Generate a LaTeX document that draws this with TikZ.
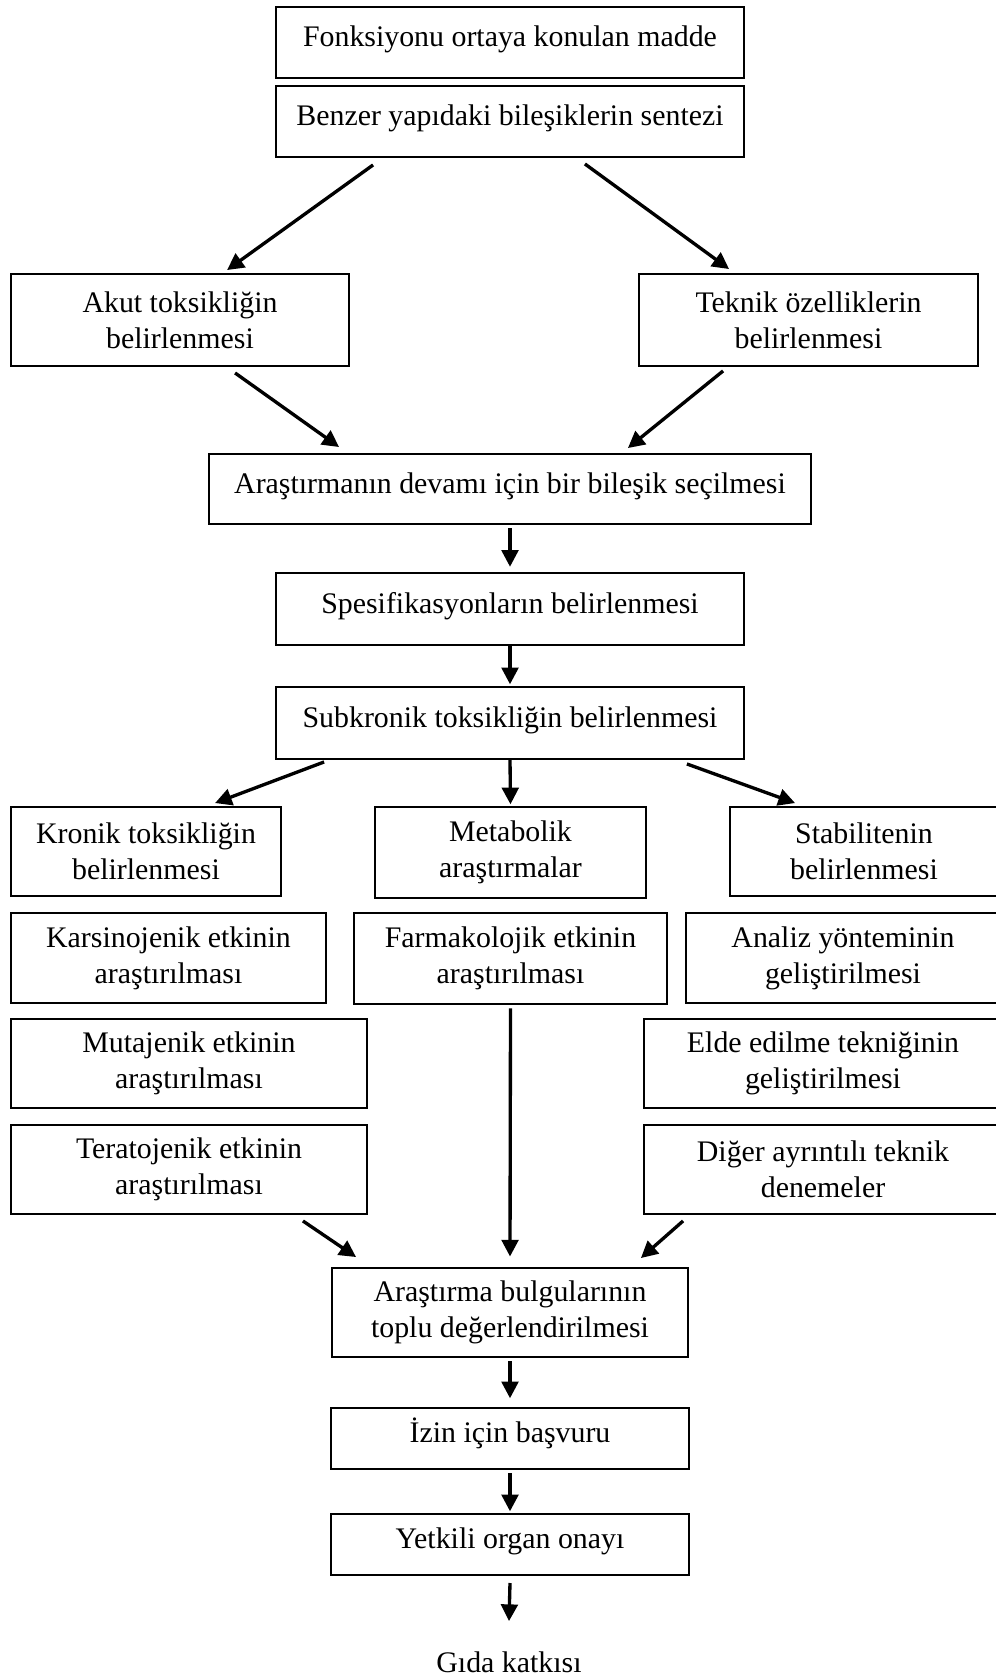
\documentclass[tikz,border=0pt]{standalone}
\usepackage{fontspec}
\setmainfont{Liberation Serif}
\usetikzlibrary{arrows.meta}

\tikzset{
  box/.style={draw, line width=1.1pt, rectangle, align=center, inner sep=2pt,
              font=\fontsize{17}{20.5}\selectfont},
  one/.style={text height=12pt, text depth=7pt},
  arr/.style={line width=1.9pt, -{Triangle[length=9.5pt,width=9.5pt]}}
}

\begin{document}
\begin{tikzpicture}[x=0.02cm, y=-0.02cm]
      \useasboundingbox (0,0) rectangle (996,1680);

      \node[box, one, minimum width=9.36cm, minimum height=1.42cm] (madde) at (510,42.5) {Fonksiyonu ortaya konulan madde};
      \node[box, one, minimum width=9.36cm, minimum height=1.42cm] (sentez) at (510,121.5) {Benzer yapıdaki bileşiklerin sentezi};

      \node[box, minimum width=6.76cm, minimum height=1.84cm] (akut) at (180,320) {Akut toksikliğin\\belirlenmesi};
      \node[box, minimum width=6.78cm, minimum height=1.84cm] (teknik) at (808.5,320) {Teknik özelliklerin\\belirlenmesi};

      \node[box, one, minimum width=12.04cm, minimum height=1.40cm] (secim) at (510,489) {Araştırmanın devamı için bir bileşik seçilmesi};
      \node[box, one, minimum width=9.36cm, minimum height=1.44cm] (spesif) at (510,609) {Spesifikasyonların belirlenmesi};
      \node[box, one, minimum width=9.36cm, minimum height=1.44cm] (subkronik) at (510,723) {Subkronik toksikliğin belirlenmesi};

      \node[box, minimum width=5.40cm, minimum height=1.78cm] (kronik) at (146,851.5) {Kronik toksikliğin\\belirlenmesi};
      \node[box, minimum width=5.42cm, minimum height=1.82cm] (metabolik) at (510.5,852.5) {Metabolik\\araştırmalar};
      \node[box, minimum width=5.36cm, minimum height=1.78cm] (stabilite) at (864,851.5) {Stabilitenin\\belirlenmesi};

      \node[box, minimum width=6.30cm, minimum height=1.80cm] (karsino) at (168.5,958) {Karsinojenik etkinin\\araştırılması};
      \node[box, minimum width=6.26cm, minimum height=1.82cm] (farmako) at (510.5,958.5) {Farmakolojik etkinin\\araştırılması};
      \node[box, minimum width=6.28cm, minimum height=1.80cm] (analiz) at (843,958) {Analiz yönteminin\\geliştirilmesi};

      \node[box, minimum width=7.12cm, minimum height=1.78cm] (mutajen) at (189,1063.5) {Mutajenik etkinin\\araştırılması};
      \node[box, minimum width=7.16cm, minimum height=1.78cm] (elde) at (823,1063.5) {Elde edilme tekniğinin\\geliştirilmesi};

      \node[box, minimum width=7.12cm, minimum height=1.78cm] (terato) at (189,1169.5) {Teratojenik etkinin\\araştırılması};
      \node[box, minimum width=7.16cm, minimum height=1.78cm] (diger) at (823,1169.5) {Diğer ayrıntılı teknik\\denemeler};

      \node[box, minimum width=7.12cm, minimum height=1.78cm] (bulgu) at (510,1312.5) {Araştırma bulgularının\\toplu değerlendirilmesi};
      \node[box, one, minimum width=7.16cm, minimum height=1.22cm] (izin) at (510,1438.5) {İzin için başvuru};
      \node[box, one, minimum width=7.16cm, minimum height=1.22cm] (onay) at (510,1544.5) {Yetkili organ onayı};

      \node[font=\fontsize{17}{20.5}\selectfont, inner sep=0pt, anchor=base] (gida) at (509,1672) {Gıda katkısı};

      \draw[arr] ([shift={(98,7)}]sentez.south west) -- ([shift={(217,-3)}]akut.north west);
      \draw[arr] ([shift={(-160,6)}]sentez.south east) -- ([shift={(91,-4)}]teknik.north west);

      \draw[arr] ([shift={(225,6)}]akut.south west) -- ([shift={(131,-6)}]secim.north west);
      \draw[arr] ([shift={(85,4)}]teknik.south west) -- ([shift={(-184,-5)}]secim.north east);

      \draw[arr] ([yshift=-2pt]secim.south) -- ([yshift=3pt]spesif.north);
      \draw[arr] (spesif.south) -- ([yshift=1pt]subkronik.north);

      \draw[arr] ([shift={(49,2)}]subkronik.south west) -- ([shift={(205,-3)}]kronik.north west);
      \draw[arr] (subkronik.south) -- ([yshift=1pt]metabolik.north);
      \draw[arr] ([shift={(-58,4)}]subkronik.south east) -- ([shift={(66,-3)}]stabilite.north west);

      \draw[arr] ([yshift=-2pt]farmako.south) -- ([yshift=6pt]bulgu.north);
      \draw[arr] ([shift={(-65,6)}]terato.south east) -- ([shift={(25,-10)}]bulgu.north west);
      \draw[arr] ([shift={(40,6)}]diger.south west) -- ([shift={(-48,-9)}]bulgu.north east);

      \draw[arr] ([yshift=-2pt]bulgu.south) -- ([yshift=5pt]izin.north);
      \draw[arr] ([yshift=-2pt]izin.south) -- ([yshift=1pt]onay.north);
      \draw[arr] ([yshift=-4pt]onay.south) -- ([yshift=17pt]gida.north);

    \end{tikzpicture}
\end{document}
